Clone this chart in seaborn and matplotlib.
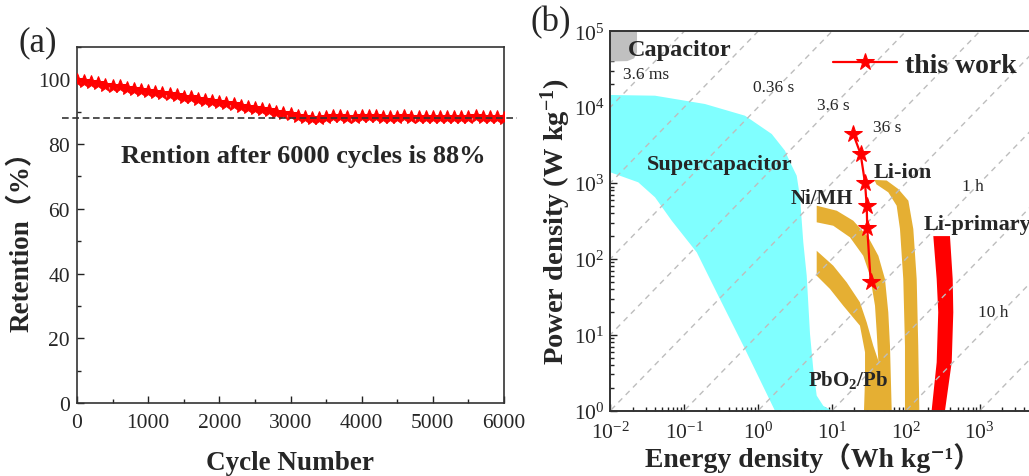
import numpy as np
import pandas as pd
import matplotlib
matplotlib.use("Agg")
import matplotlib.pyplot as plt
import seaborn as sns
from matplotlib.ticker import MultipleLocator, LogLocator, NullFormatter

# ---------------- data: panel (a) ----------------
cycles = list(range(0, 6001, 100))
retention = [99.8, 99.4, 99.1, 98.8, 98.4, 98.1, 97.8, 97.4, 97.1, 96.8,
             96.5, 96.1, 95.8, 95.4, 95.1, 94.7, 94.4, 94.0, 93.7, 93.3,
             93.0, 92.6, 92.3, 91.9, 91.5, 91.2, 90.8, 90.4, 90.0, 89.6,
             89.2, 88.8, 88.4, 88.2, 88.2, 88.5, 88.8, 88.7, 88.5, 88.4,
             88.6, 88.7, 88.6, 88.4, 88.3, 88.5, 88.6, 88.5, 88.4, 88.4,
             88.5, 88.4, 88.4, 88.3, 88.4, 88.5, 88.6, 88.4, 88.3, 88.4, 88.2]
retention_final = 88
annotation_a = "Rention after 6000 cycles is 88%"

# ---------------- data: panel (b) ----------------
capacitor_E = [0.01, 0.023, 0.023, 0.021, 0.017, 0.01]
capacitor_P = [1e5, 1e5, 5.3e4, 4.4e4, 4.05e4, 4.0e4]

supercap_E = [0.01, 0.0403, 0.191, 0.665, 1.53, 2.31, 2.70, 3.33, 3.69, 4.09, 4.55,
              5.04, 5.58, 6.21, 7.62, 9.9,
              1.69, 0.665, 0.289, 0.148, 0.0678, 0.0403, 0.0239, 0.01]
supercap_P = [14480, 14170, 11010, 7720, 4430, 2670, 1896, 1250, 655, 166, 60.1,
              10.3, 3.55, 1.58, 1.16, 1.0,
              1.0, 6.5, 32.8, 122, 319, 649, 1023, 1387]

nimh_E = [6.21, 11.6, 19.4, 31.0, 42.4, 52.1, 57.8, 60.9, 64.3,
          34.8, 42.4, 40.3, 38.2, 32.7, 26.5, 17.5, 10.4, 6.21]
nimh_P = [503, 432, 319, 193, 110, 54.4, 19.8, 7.19, 1.0,
          1.0, 4.56, 10.8, 24.2, 60.1, 110, 193, 274, 304]

pbo2_E = [6.21, 10.4, 15.8, 23.9, 29.5, 36.2, 42.4, 47.5, 27.1,
          28.0, 28.0, 23.9, 14.2, 9.40, 6.21]
pbo2_P = [128, 81.5, 49.2, 26.8, 14.6, 7.19, 4.56, 1.0, 1.0,
          2.62, 5.89, 13.2, 24.2, 40.2, 60.1]

liion_E = [37.5, 55, 78.9, 108, 126, 140, 147, 152,
           97.2, 97.2, 92.2, 83.2, 75.0, 57.8, 40]
liion_P = [1100, 1080, 835, 586, 248, 54.4, 7.19, 1.0,
           1.0, 7.19, 54.4, 248, 503, 755, 960]

liprim_E = [235, 395, 430, 438, 417, 338, 223, 261, 274, 261]
liprim_P = [200, 200, 54.4, 19.8, 4.34, 1.0, 1.0, 4.34, 19.8, 54.4]

work_E = [19.4, 24.4, 28.0, 29.5, 30.0, 33.4]
work_P = [4430, 2415, 1000, 503, 253, 50]

time_constants_h = [1e-7, 1e-6, 1e-5, 1e-4, 1e-3, 1e-2, 1e-1, 1, 10, 100, 1000]

time_labels = ["3.6 ms", "0.36 s", "3.6 s", "36 s", "1 h", "10 h"]
time_label_E = [0.0147, 0.861, 6.21, 35.6, 569, 938]
time_label_P = [2.74e4, 1.83e4, 1.07e4, 5530, 923, 20.2]

region_labels = ["Capacitor", "Supercapacitor", "Li-ion", "Ni/MH", "Li-primary", "PbO$_2$/Pb"]
region_label_E = [0.0175, 0.0311, 36.2, 2.76, 172, 4.78]
region_label_P = [5.84e4, 1783, 1387, 630, 289, 2.6]
region_label_size = [17.5, 16, 16, 15, 16, 15]

# ---------------- style ----------------
sns.set_style("ticks")
plt.rcParams["font.family"] = ["Liberation Serif", "DejaVu Serif", "Noto Sans CJK SC"]
plt.rcParams["mathtext.fontset"] = "custom"
plt.rcParams["mathtext.rm"] = "Liberation Serif"
plt.rcParams["mathtext.it"] = "Liberation Serif:italic"
plt.rcParams["mathtext.bf"] = "Liberation Serif:bold"
plt.rcParams["mathtext.default"] = "regular"
plt.rcParams["axes.unicode_minus"] = False

W, H = 1029, 477
fig = plt.figure(figsize=(W / 100, H / 100), dpi=100)

# ---------------- panel (a) ----------------
ax1 = fig.add_axes([77 / W, (H - 404) / H, 427 / W, 356 / H])
df_a = pd.DataFrame({"cycle": cycles, "retention": retention})
sns.lineplot(data=df_a, x="cycle", y="retention", ax=ax1, color="red",
             marker="*", markersize=10, markeredgecolor="red", linewidth=1.5,
             estimator=None, zorder=3)
ax1.plot([-215, 6180], [retention_final, retention_final], color="#333333",
         linewidth=1.2, dashes=(4, 2.2), clip_on=False, zorder=4)
ax1.set_xlim(0, 6000)
ax1.set_ylim(0, 110)
ax1.xaxis.set_major_locator(MultipleLocator(1000))
ax1.xaxis.set_minor_locator(MultipleLocator(500))
ax1.yaxis.set_major_locator(MultipleLocator(20))
ax1.yaxis.set_minor_locator(MultipleLocator(10))
ax1.tick_params(which="both", direction="in", top=False, right=False,
                labelsize=15.5, width=1.0, color="#222222")
ax1.tick_params(which="major", length=5)
ax1.tick_params(which="minor", length=3)
ax1.tick_params(axis="x", which="major", pad=7)
ax1.tick_params(axis="y", which="major", pad=5)
for s in ax1.spines.values():
    s.set_linewidth(1.2)
    s.set_color("#333333")
ax1.set_xlabel("Cycle Number", fontsize=19.5, fontweight="bold")
ax1.set_ylabel("Retention（%）", fontsize=19.5, fontweight="bold")
ax1.xaxis.set_label_coords(0.5, -0.132)
ax1.yaxis.set_label_coords(-0.1, 0.475)
ax1.text(3180, 76.5, annotation_a, fontsize=19, fontweight="bold",
         ha="center", va="center")
fig.text(38 / W, 1 - 43 / H, "(a)", fontsize=25, ha="center", va="center")

# ---------------- panel (b) ----------------
ax2 = fig.add_axes([610.3 / W, (H - 411.7) / H, (W - 610.3) / W, 379.4 / H])
ax2.set_xscale("log")
ax2.set_yscale("log")
ax2.set_xlim(1e-2, 10 ** 3.666)
ax2.set_ylim(1, 1e5)

ax2.fill(capacitor_E, capacitor_P, color="#c0c0c0", lw=0, zorder=1)
ax2.fill(supercap_E, supercap_P, color="#80ffff", lw=0, zorder=1)
ax2.fill(nimh_E, nimh_P, color="#e5af33", lw=0, zorder=1)
ax2.fill(pbo2_E, pbo2_P, color="#e5af33", lw=0, zorder=1)
ax2.fill(liion_E, liion_P, color="#e5af33", lw=0, zorder=1)
ax2.fill(liprim_E, liprim_P, color="#ff0000", lw=0, zorder=1)

E_line = np.logspace(-3, 5, 20)
for t in time_constants_h:
    ax2.plot(E_line, E_line / t, color="#bdbdbd", linewidth=1.0,
             dashes=(4, 3.5), zorder=2)

df_b = pd.DataFrame({"E": work_E, "P": work_P})
sns.lineplot(data=df_b, x="E", y="P", ax=ax2, sort=False, estimator=None,
             color="red", marker="*", markersize=13, markeredgecolor="red",
             linewidth=1.6, label="this work", zorder=5)

for lab, e, p in zip(time_labels, time_label_E, time_label_P):
    ax2.text(e, p, lab, fontsize=12.5, ha="left", va="center", zorder=6)
for lab, e, p, fs in zip(region_labels, region_label_E, region_label_P, region_label_size):
    ax2.text(e, p, lab, fontsize=fs, fontweight="bold", ha="left", va="center", zorder=6)

ax2.xaxis.set_major_locator(LogLocator(base=10, numticks=12))
ax2.xaxis.set_minor_locator(LogLocator(base=10, subs=np.arange(2, 10), numticks=12))
ax2.yaxis.set_major_locator(LogLocator(base=10, numticks=12))
ax2.yaxis.set_minor_locator(LogLocator(base=10, subs=np.arange(2, 10), numticks=12))
ax2.xaxis.set_minor_formatter(NullFormatter())
ax2.yaxis.set_minor_formatter(NullFormatter())
ax2.tick_params(which="both", direction="in", top=False, right=False,
                labelsize=15.5, width=1.0, color="#222222")
ax2.tick_params(which="major", length=5)
ax2.tick_params(which="minor", length=3)
ax2.tick_params(axis="x", which="major", pad=8)
ax2.tick_params(axis="y", which="major", pad=4)
for s in ax2.spines.values():
    s.set_linewidth(1.4)
    s.set_color("#333333")
ax2.spines["right"].set_visible(False)
ax2.set_xlabel("Energy density（Wh kg⁻¹）", fontsize=20, fontweight="bold")
ax2.set_ylabel("Power density (W kg$^{-1}$)", fontsize=20.5, fontweight="bold")
ax2.xaxis.set_label_coords(0.483, -0.083)
ax2.yaxis.set_label_coords(-0.088, 0.5)

ax2.legend(loc="center left", bbox_to_anchor=(833 / W, 1 - 66 / H),
           bbox_transform=fig.transFigure, frameon=False,
           prop={"weight": "bold", "size": 20}, handlelength=2.3,
           handletextpad=0.3, borderpad=0, borderaxespad=0)
fig.text(551 / W, 1 - 23 / H, "(b)", fontsize=25, ha="center", va="center")

fig.savefig("out.png", dpi=100)
